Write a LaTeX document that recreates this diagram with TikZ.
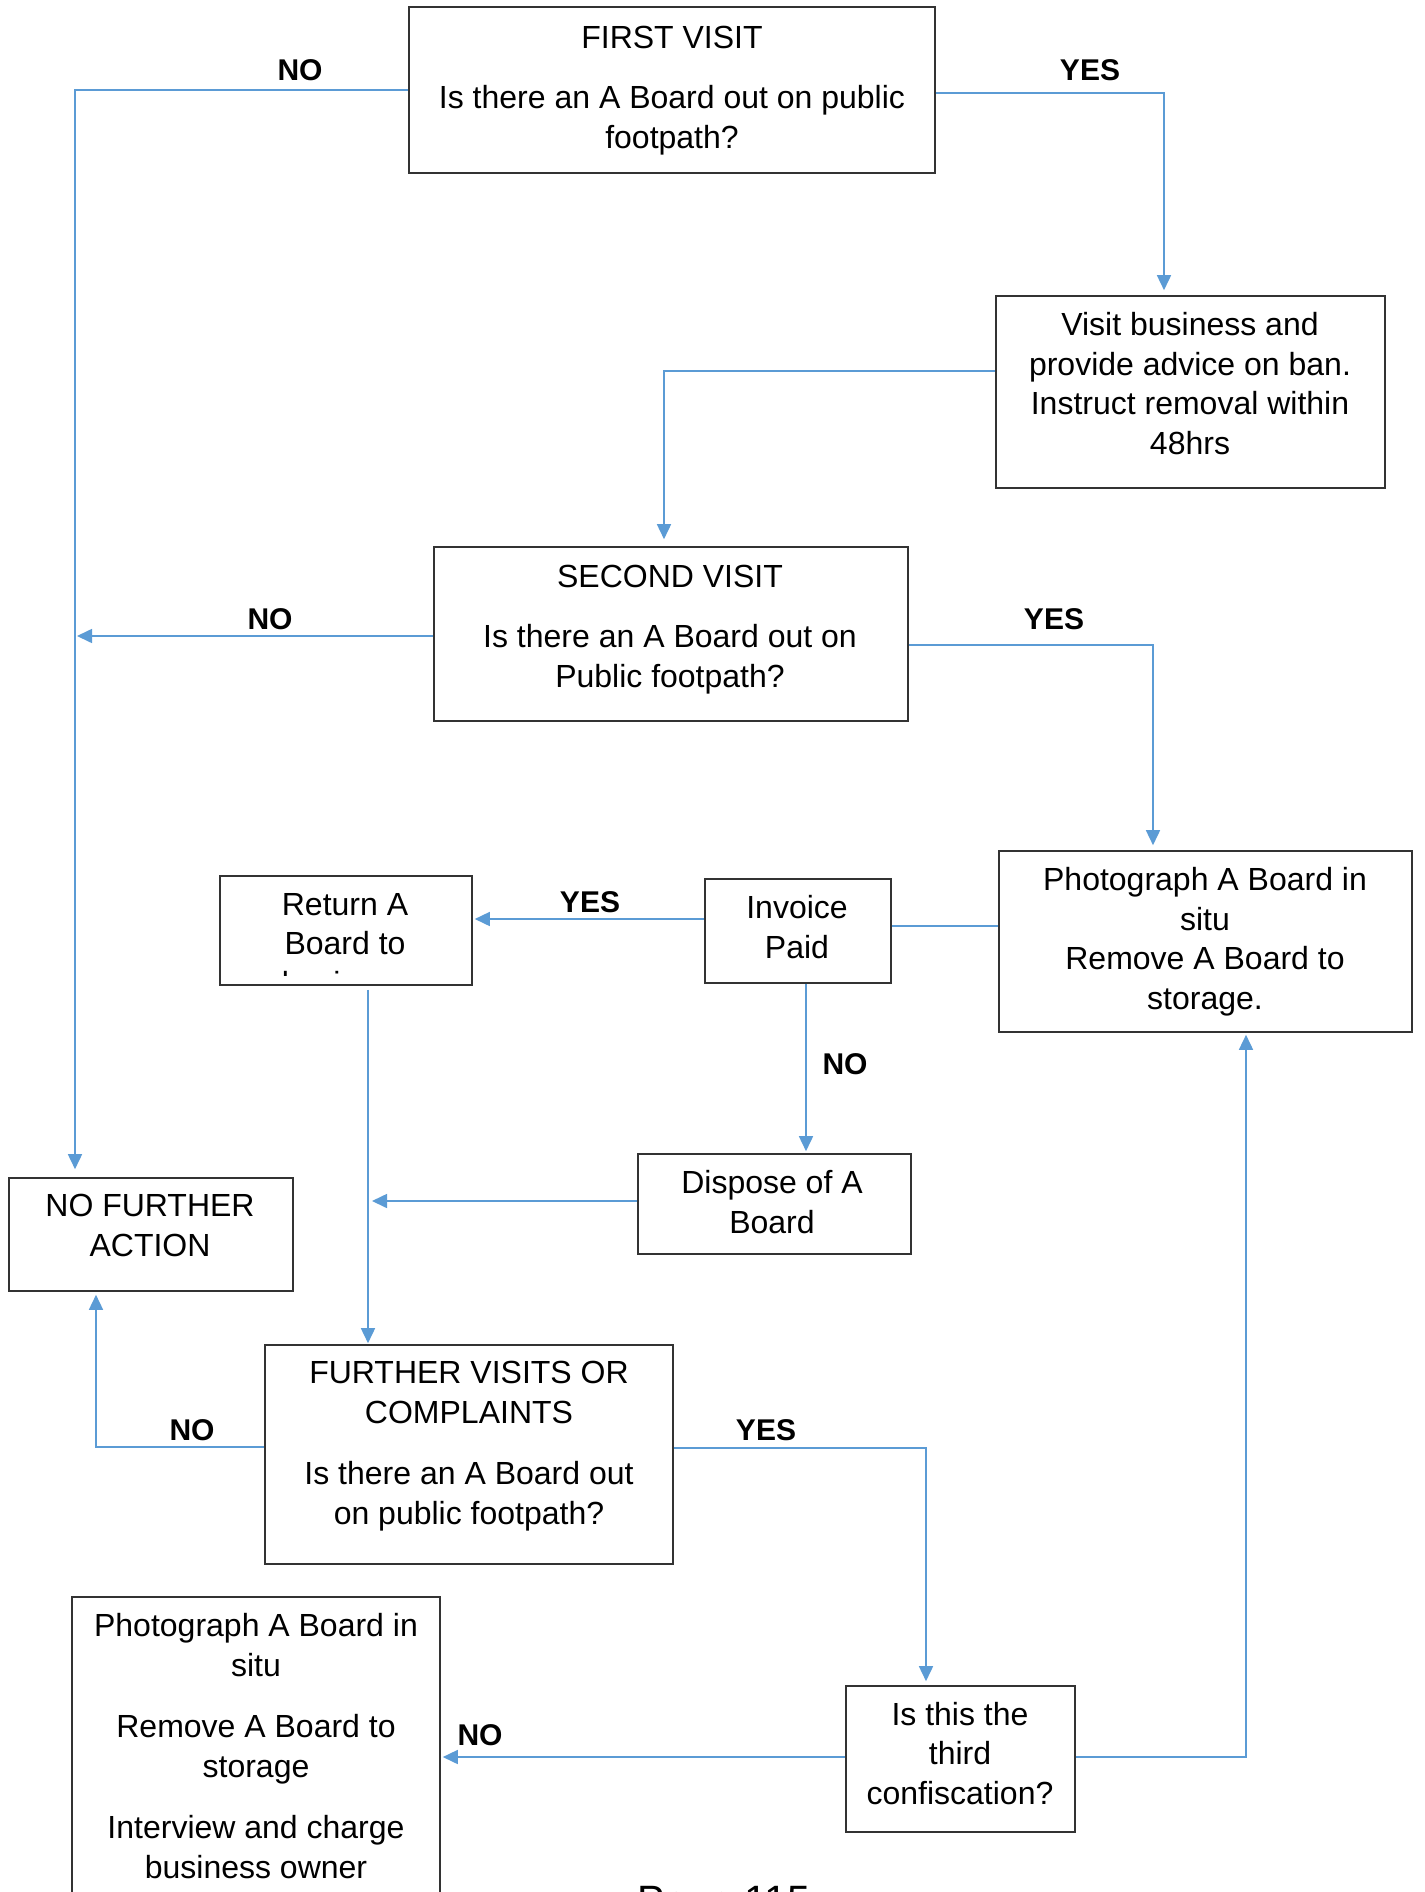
\documentclass[tikz,border=0pt]{standalone}
\usepackage{fontspec}
\setmainfont{Liberation Sans}
\usetikzlibrary{arrows.meta,calc}
\definecolor{connblue}{HTML}{5B9BD5}
\begin{document}
\begin{tikzpicture}[x=1pt,y=-1pt,
  box/.style={draw=black!80,line width=1.6pt,inner sep=0pt,rectangle},
  txt/.style={font=\fontsize{32}{39.5}\selectfont,align=center,anchor=base,inner sep=0pt},
  lbl/.style={font=\fontsize{30}{36}\selectfont\bfseries,inner sep=0pt},
  link/.style={draw=connblue,line width=1.6pt},
  arr/.style={link,-{Triangle[length=15pt,width=14pt]}}]
\useasboundingbox (0,0) rectangle (1424,1892);
\begin{scope}
\clip (0,0) rectangle (1424,1892);
% boxes
\node[box,minimum width=526pt,minimum height=166pt] (fv) at (672,90) {};
\node[box,minimum width=389pt,minimum height=192pt] (vb) at (1190.5,392) {};
\node[box,minimum width=474pt,minimum height=174pt] (sv) at (671,634) {};
\node[box,minimum width=413pt,minimum height=181pt] (pr) at (1205.5,941.5) {};
\node[box,minimum width=186pt,minimum height=104pt] (ip) at (798,931) {};
\node[box,minimum width=252pt,minimum height=109pt] (rb) at (346,930.5) {};
\node[box,minimum width=273pt,minimum height=100pt] (db) at (774.5,1204) {};
\node[box,minimum width=284pt,minimum height=113pt] (nfa) at (151,1234.5) {};
\node[box,minimum width=408pt,minimum height=219pt] (fc) at (469,1454.5) {};
\node[box,minimum width=229pt,minimum height=146pt] (tc) at (960.5,1759) {};
\node[box,minimum width=368pt,minimum height=363pt] (pb) at (256,1778.5) {};
% texts (anchor=base is the baseline of the last line)
\node[txt] (fvt) at (672,148) {FIRST VISIT\\[21pt]Is there an A Board out on public\\footpath?};
\node[txt] (vbt) at (1190,454) {Visit business and\\provide advice on ban.\\Instruct removal within\\48hrs};
\node[txt] (svt) at (670,687) {SECOND VISIT\\[21pt]Is there an A Board out on\\Public footpath?};
\node[txt] (prt) at (1205,1009) {Photograph A Board in\\situ\\Remove A Board to\\storage.};
\node[txt] (ipt) at (797,958) {Invoice\\Paid};
\begin{scope}
\clip (220,876) rectangle (472,975.5);
\node[txt] (rbt) at (345,994) {Return A\\Board to\\business};
\end{scope}
\node[txt] (dbt) at (772,1233) {Dispose of A\\Board};
\node[txt] (nfat) at (150,1256) {NO FURTHER\\ACTION};
\node[txt] (fct) at (469,1524) {FURTHER VISITS OR\\COMPLAINTS\\[22pt]Is there an A Board out\\on public footpath?};
\node[txt] (tct) at (960,1804) {Is this the\\third\\confiscation?};
\node[txt] (pbt) at (256,1878) {Photograph A Board in\\situ\\[22pt]Remove A Board to\\storage\\[22pt]Interview and charge\\business owner};
\node[txt,font=\fontsize{41}{48}\selectfont] (page) at (724,1914) {Page 115};
% labels
\node[lbl] (l1) at (300,70) {NO};
\node[lbl] (l2) at (1090,70) {YES};
\node[lbl] (l3) at (270,619) {NO};
\node[lbl] (l4) at (1054,619) {YES};
\node[lbl] (l5) at (590,902) {YES};
\node[lbl] (l6) at (845,1064) {NO};
\node[lbl] (l7) at (192,1430) {NO};
\node[lbl] (l8) at (766,1430) {YES};
\node[lbl] (l9) at (480,1735) {NO};
% connectors
\coordinate (xL) at (75,0);
\coordinate (xR1) at (1164,0);
\coordinate (x3) at (664,0);
\coordinate (x5) at (1153,0);
\coordinate (x8) at (806,0);
\coordinate (x9) at (368,0);
\coordinate (x11) at (96,0);
\coordinate (x12) at (926,0);
\coordinate (x14) at (1246,0);
\draw[arr,shorten >=8pt] (fv.west) -| (xL |- nfa.north);
\draw[arr,shorten >=5pt] ([yshift=-3pt]fv.east) -| (xR1 |- vb.north);
\draw[arr,shorten >=7pt] ([yshift=21pt]vb.west) -| (x3 |- sv.north);
\coordinate (s2w) at ([yshift=-2pt]sv.west);
\draw[arr,shorten >=2pt] (s2w) -- (xL |- s2w);
\coordinate (s2e) at ([yshift=-11pt]sv.east);
\draw[arr,shorten >=5pt] (s2e) -| (x5 |- pr.north);
\coordinate (prw) at ([yshift=15.5pt]pr.west);
\draw[link] (prw) -- (ip.east |- prw);
\coordinate (ipw) at ([yshift=12pt]ip.west);
\draw[arr,shorten >=2pt] (ipw) -- (rb.east |- ipw);
\draw[arr,shorten >=2pt] (x8 |- ip.south) -- (x8 |- db.north);
\draw[arr,shorten <=4pt,shorten >=1pt] (x9 |- rb.south) -- (x9 |- fc.north);
\coordinate (dbw) at ([yshift=3pt]db.west);
\draw[arr,shorten >=4pt] (dbw) -- (x9 |- dbw);
\coordinate (fcw) at ([yshift=7.5pt]fc.west);
\draw[arr,shorten >=3pt] (fcw) -| (x11 |- nfa.south);
\coordinate (fce) at ([yshift=6.5pt]fc.east);
\draw[arr,shorten >=4pt] (fce) -| (x12 |- tc.north);
\coordinate (tcw) at ([yshift=2pt]tc.west);
\draw[arr,shorten >=2pt] (tcw) -- (pb.east |- tcw);
\coordinate (tce) at ([yshift=2pt]tc.east);
\draw[arr,shorten >=2pt] (tce) -| (x14 |- pr.south);
\end{scope}
\end{tikzpicture}
\end{document}
